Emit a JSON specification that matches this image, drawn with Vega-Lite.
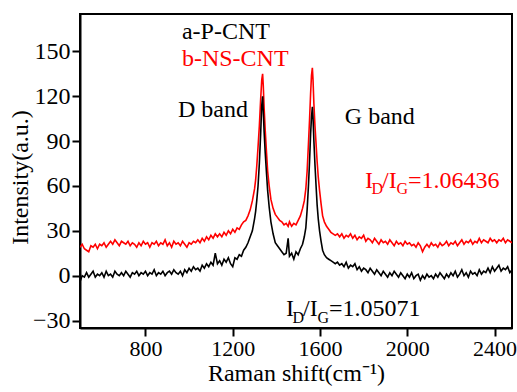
{
  "$schema": "https://vega.github.io/schema/vega-lite/v6.json",
  "width": 432,
  "height": 314,
  "autosize": "none",
  "padding": {"left": 80, "top": 14, "right": 5, "bottom": 64},
  "background": "white",
  "config": {
    "font": "Liberation Serif",
    "view": {"stroke": "black", "strokeWidth": 2},
    "axis": {
      "labelFont": "Liberation Serif", "labelFontSize": 24, "labelColor": "black",
      "titleFont": "Liberation Serif", "titleFontSize": 24, "titleFontWeight": "normal", "titleColor": "black",
      "domainColor": "black", "domainWidth": 2, "tickColor": "black", "tickWidth": 2, "tickSize": 8,
      "grid": false, "labelPadding": 2
    },
    "text": {"font": "Liberation Serif"}
  },
  "datasets": {
    "spec": [
      {"x":500,"a":-4,"b":19},{"x":510,"a":0,"b":21},{"x":520,"a":-1,"b":18},{"x":530,"a":2,"b":17},{"x":540,"a":-1,"b":16},
      {"x":550,"a":1,"b":20},{"x":560,"a":3,"b":19},{"x":570,"a":-1,"b":21},{"x":580,"a":1,"b":18},{"x":590,"a":0,"b":21},
      {"x":600,"a":2,"b":20},{"x":610,"a":-1,"b":22},{"x":620,"a":3,"b":19},{"x":630,"a":0,"b":21},{"x":640,"a":1,"b":23},
      {"x":650,"a":-1,"b":21},{"x":660,"a":3,"b":24},{"x":670,"a":1,"b":22},{"x":680,"a":0,"b":20},{"x":690,"a":2,"b":23},
      {"x":700,"a":0,"b":22},{"x":710,"a":3,"b":21},{"x":720,"a":1,"b":23},{"x":730,"a":-1,"b":20},{"x":740,"a":2,"b":22},
      {"x":750,"a":1,"b":21},{"x":760,"a":3,"b":19},{"x":770,"a":0,"b":22},{"x":780,"a":2,"b":20},{"x":790,"a":1,"b":23},
      {"x":800,"a":3,"b":21},{"x":810,"a":0,"b":22},{"x":820,"a":2,"b":19},{"x":830,"a":1,"b":22},{"x":840,"a":4,"b":21},
      {"x":850,"a":0,"b":23},{"x":860,"a":2,"b":20},{"x":870,"a":1,"b":22},{"x":880,"a":3,"b":21},{"x":890,"a":0,"b":24},
      {"x":900,"a":2,"b":20},{"x":910,"a":3,"b":22},{"x":920,"a":1,"b":19},{"x":930,"a":4,"b":23},{"x":940,"a":2,"b":21},
      {"x":950,"a":1,"b":22},{"x":960,"a":3,"b":20},{"x":970,"a":0,"b":23},{"x":980,"a":4,"b":21},{"x":990,"a":2,"b":19},
      {"x":1000,"a":5,"b":22},{"x":1010,"a":3,"b":21},{"x":1020,"a":6,"b":23},{"x":1030,"a":4,"b":22},{"x":1040,"a":5,"b":24},
      {"x":1050,"a":3,"b":22},{"x":1060,"a":7,"b":25},{"x":1070,"a":5,"b":23},{"x":1080,"a":8,"b":26},{"x":1090,"a":6,"b":24},
      {"x":1100,"a":9,"b":27},{"x":1110,"a":7,"b":25},{"x":1120,"a":15,"b":28},{"x":1130,"a":8,"b":26},{"x":1140,"a":10,"b":28},
      {"x":1150,"a":7,"b":26},{"x":1160,"a":11,"b":29},{"x":1170,"a":9,"b":27},{"x":1180,"a":12,"b":30},{"x":1190,"a":8,"b":28},
      {"x":1200,"a":6,"b":31},{"x":1210,"a":12,"b":29},{"x":1220,"a":11,"b":32},{"x":1230,"a":14,"b":31},{"x":1240,"a":13,"b":34},
      {"x":1250,"a":17,"b":36},{"x":1260,"a":19,"b":37},{"x":1270,"a":22,"b":40},{"x":1280,"a":26,"b":44},{"x":1290,"a":30,"b":50},
      {"x":1300,"a":38,"b":58},{"x":1305,"a":43,"b":64},{"x":1310,"a":50,"b":73},{"x":1316,"a":60,"b":86},{"x":1322,"a":75,"b":100},
      {"x":1328,"a":95,"b":118},{"x":1333,"a":114,"b":131},{"x":1337,"a":120,"b":135},{"x":1340,"a":110,"b":127},{"x":1344,"a":96,"b":112},
      {"x":1349,"a":82,"b":97},{"x":1355,"a":68,"b":82},{"x":1360,"a":57,"b":70},{"x":1367,"a":46,"b":60},{"x":1375,"a":36,"b":51},
      {"x":1385,"a":28,"b":45},{"x":1395,"a":22,"b":41},{"x":1405,"a":20,"b":39},{"x":1415,"a":18,"b":37},{"x":1425,"a":16,"b":36},
      {"x":1435,"a":14,"b":34},{"x":1445,"a":15,"b":35},{"x":1454,"a":25,"b":33},{"x":1460,"a":13,"b":36},{"x":1470,"a":15,"b":33},
      {"x":1480,"a":11,"b":35},{"x":1490,"a":16,"b":34},{"x":1500,"a":14,"b":37},{"x":1510,"a":18,"b":40},{"x":1520,"a":21,"b":45},
      {"x":1528,"a":26,"b":50},{"x":1535,"a":32,"b":58},{"x":1541,"a":44,"b":70},{"x":1547,"a":60,"b":88},{"x":1552,"a":76,"b":104},
      {"x":1557,"a":95,"b":122},{"x":1561,"a":106,"b":134},{"x":1565,"a":113,"b":139},{"x":1568,"a":106,"b":131},{"x":1572,"a":90,"b":115},
      {"x":1577,"a":74,"b":100},{"x":1582,"a":60,"b":88},{"x":1587,"a":47,"b":76},{"x":1592,"a":38,"b":66},{"x":1598,"a":30,"b":57},
      {"x":1605,"a":23,"b":48},{"x":1612,"a":17,"b":40},{"x":1620,"a":14,"b":36},{"x":1630,"a":12,"b":33},{"x":1640,"a":11,"b":31},
      {"x":1650,"a":10,"b":29},{"x":1660,"a":9,"b":28},{"x":1670,"a":8,"b":27},{"x":1680,"a":9,"b":28},{"x":1690,"a":7,"b":26},
      {"x":1700,"a":8,"b":28},{"x":1710,"a":6,"b":25},{"x":1720,"a":9,"b":27},{"x":1730,"a":5,"b":26},{"x":1740,"a":7,"b":28},
      {"x":1750,"a":6,"b":25},{"x":1760,"a":8,"b":27},{"x":1770,"a":4,"b":24},{"x":1780,"a":6,"b":26},{"x":1790,"a":3,"b":25},
      {"x":1800,"a":5,"b":27},{"x":1810,"a":4,"b":23},{"x":1820,"a":2,"b":25},{"x":1830,"a":5,"b":24},{"x":1840,"a":3,"b":22},
      {"x":1850,"a":1,"b":25},{"x":1860,"a":4,"b":23},{"x":1870,"a":2,"b":21},{"x":1880,"a":0,"b":24},{"x":1890,"a":3,"b":22},
      {"x":1900,"a":1,"b":23},{"x":1910,"a":-1,"b":21},{"x":1920,"a":2,"b":24},{"x":1930,"a":0,"b":22},{"x":1940,"a":3,"b":20},
      {"x":1950,"a":1,"b":23},{"x":1960,"a":-1,"b":21},{"x":1970,"a":2,"b":22},{"x":1980,"a":0,"b":20},{"x":1990,"a":-2,"b":23},
      {"x":2000,"a":1,"b":21},{"x":2010,"a":-1,"b":22},{"x":2020,"a":2,"b":20},{"x":2030,"a":-2,"b":21},{"x":2040,"a":0,"b":19},
      {"x":2050,"a":1,"b":22},{"x":2060,"a":-3,"b":20},{"x":2070,"a":0,"b":16},{"x":2080,"a":-2,"b":19},{"x":2090,"a":1,"b":21},
      {"x":2100,"a":-1,"b":19},{"x":2110,"a":0,"b":22},{"x":2120,"a":-2,"b":20},{"x":2130,"a":1,"b":21},{"x":2140,"a":-1,"b":19},
      {"x":2150,"a":2,"b":22},{"x":2160,"a":0,"b":20},{"x":2170,"a":-2,"b":21},{"x":2180,"a":1,"b":23},{"x":2190,"a":-1,"b":20},
      {"x":2200,"a":2,"b":22},{"x":2210,"a":0,"b":21},{"x":2220,"a":3,"b":23},{"x":2230,"a":-1,"b":20},{"x":2240,"a":1,"b":22},
      {"x":2250,"a":4,"b":24},{"x":2260,"a":0,"b":21},{"x":2270,"a":2,"b":23},{"x":2280,"a":-1,"b":22},{"x":2290,"a":3,"b":24},
      {"x":2300,"a":1,"b":21},{"x":2310,"a":2,"b":23},{"x":2320,"a":0,"b":22},{"x":2330,"a":4,"b":25},{"x":2340,"a":1,"b":22},
      {"x":2350,"a":3,"b":24},{"x":2360,"a":2,"b":23},{"x":2370,"a":5,"b":22},{"x":2380,"a":2,"b":25},{"x":2390,"a":6,"b":23},
      {"x":2400,"a":3,"b":24},{"x":2410,"a":5,"b":22},{"x":2420,"a":7,"b":24},{"x":2430,"a":3,"b":23},{"x":2440,"a":5,"b":25},
      {"x":2450,"a":4,"b":22},{"x":2460,"a":6,"b":24},{"x":2470,"a":2,"b":23},{"x":2480,"a":4,"b":22}
    ],
    "labels": [
      {"x":967,"y":158.3,"t":"a-P-CNT","s":"a"},
      {"x":967,"y":139.9,"t":"b-NS-CNT","s":"b"},
      {"x":949,"y":106.1,"t":"D band","s":"a"},
      {"x":1714,"y":101.4,"t":"G band","s":"a"},
      {"x":1806,"y":58.4,"t":"I","s":"b"},
      {"x":1884,"y":58.4,"t":"/I","s":"b"},
      {"x":2003,"y":58.4,"t":"=1.06436","s":"b"},
      {"x":1444,"y":-27,"t":"I","s":"a"},
      {"x":1522,"y":-27,"t":"/I","s":"a"},
      {"x":1641,"y":-27,"t":"=1.05071","s":"a"}
    ],
    "subs": [
      {"x":1836,"y":54.4,"t":"D","s":"b"},
      {"x":1951,"y":54.4,"t":"G","s":"b"},
      {"x":1474,"y":-31.5,"t":"D","s":"a"},
      {"x":1589,"y":-31.5,"t":"G","s":"a"}
    ]
  },
  "layer": [
    {
      "data": {"name": "spec"},
      "mark": {"type": "line", "color": "#ff0000", "strokeWidth": 1.6, "clip": true},
      "encoding": {
        "x": {"field": "x", "type": "quantitative", "scale": {"domain": [500, 2480], "nice": false, "zero": false},
              "axis": {"values": [800, 1200, 1600, 2000, 2400], "format": "d", "title": "Raman shift(cm⁻¹)", "titlePadding": 2,
                       "labelFontSize": 22, "labelFont": "Liberation Serif", "titleFont": "Liberation Serif"}},
        "y": {"field": "b", "type": "quantitative", "scale": {"domain": [-35, 175], "nice": false, "zero": false},
              "axis": {"values": [-30, 0, 30, 60, 90, 120, 150], "format": "d", "title": "Intensity(a.u.)", "titlePadding": 0, "titleY": 163,
                       "labelFont": "Liberation Serif", "titleFont": "Liberation Serif"}}
      }
    },
    {
      "data": {"name": "spec"},
      "mark": {"type": "line", "color": "#000000", "strokeWidth": 1.6, "clip": true},
      "encoding": {
        "x": {"field": "x", "type": "quantitative"},
        "y": {"field": "a", "type": "quantitative"}
      }
    },
    {
      "data": {"name": "labels"},
      "mark": {"type": "text", "fontSize": 24, "font": "Liberation Serif", "align": "left", "baseline": "alphabetic"},
      "encoding": {
        "x": {"field": "x", "type": "quantitative"},
        "y": {"field": "y", "type": "quantitative"},
        "text": {"field": "t"},
        "color": {"field": "s", "type": "nominal", "scale": {"domain": ["a", "b"], "range": ["#000000", "#ff0000"]}, "legend": null}
      }
    },
    {
      "data": {"name": "subs"},
      "mark": {"type": "text", "fontSize": 16, "font": "Liberation Serif", "align": "left", "baseline": "alphabetic"},
      "encoding": {
        "x": {"field": "x", "type": "quantitative"},
        "y": {"field": "y", "type": "quantitative"},
        "text": {"field": "t"},
        "color": {"field": "s", "type": "nominal", "scale": {"domain": ["a", "b"], "range": ["#000000", "#ff0000"]}, "legend": null}
      }
    }
  ]
}
